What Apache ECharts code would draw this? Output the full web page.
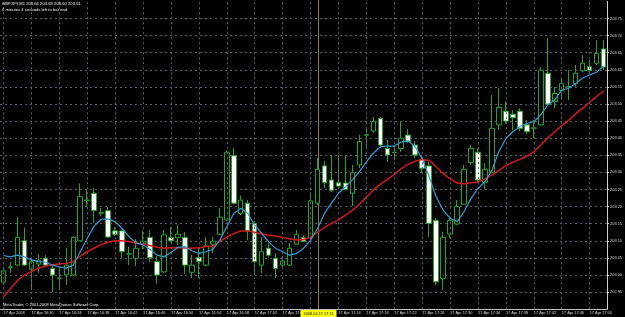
<!DOCTYPE html>
<html><head><meta charset="utf-8">
<script src="https://cdn.jsdelivr.net/npm/echarts@6/dist/echarts.min.js"></script>
<style>html,body{margin:0;padding:0;background:#000;}#c{width:625px;height:317px;}</style>
</head><body><div id="c"></div>
<script>
const times = ['16:26','16:27','16:28','16:29','16:30','16:31','16:32','16:33','16:34','16:35',
'16:36','16:37','16:38','16:39','16:40','16:41','16:42','16:43','16:44','16:45',
'16:46','16:47','16:48','16:49','16:50','16:51','16:52','16:53','16:54','16:55',
'16:56','16:57','16:58','16:59','17:00','17:01','17:02','17:03','17:04','17:05',
'17:06','17:07','17:08','17:09','17:10','17:11','17:12','17:13','17:14','17:15',
'17:16','17:17','17:18','17:19','17:20','17:21','17:22','17:23','17:24','17:25',
'17:26','17:27','17:28','17:29','17:30','17:31','17:32','17:33','17:34','17:35',
'17:36','17:37','17:38','17:39','17:40','17:41','17:42','17:43','17:44','17:45',
'17:46','17:47','17:48','17:49','17:50','17:51','17:52'];

const open = [202.979,203.022,203.029,203.100,203.017,203.032,203.049,203.019,202.990,203.000,
203.000,203.100,203.218,203.239,203.181,203.188,203.129,203.129,203.061,203.049,
203.091,203.110,203.039,203.009,203.110,203.110,203.110,203.008,203.051,203.029,
203.090,203.119,203.161,203.349,203.180,203.210,203.151,203.029,203.078,203.049,
203.029,203.029,203.090,203.109,203.110,203.210,203.319,203.278,203.270,203.269,
203.239,203.322,203.409,203.421,203.458,203.370,203.358,203.370,203.409,203.380,
203.338,203.319,203.159,202.990,203.120,203.149,203.207,203.329,203.359,203.270,
203.299,203.439,203.479,203.470,203.479,203.439,203.429,203.439,203.590,203.507,
203.539,203.550,203.560,203.597,203.609,203.619,203.661];

const close = [203.012,203.024,203.110,203.029,203.039,203.042,203.029,203.000,202.991,203.029,
203.110,203.229,203.219,203.189,203.182,203.111,203.119,203.069,203.062,203.078,
203.099,203.051,203.000,203.117,203.100,203.119,203.029,203.029,203.040,203.085,
203.099,203.169,203.359,203.210,203.219,203.129,203.039,203.068,203.058,203.019,
203.041,203.078,203.119,203.099,203.217,203.309,203.270,203.248,203.260,203.250,
203.299,203.390,203.410,203.448,203.380,203.351,203.359,203.400,203.390,203.351,
203.312,203.151,202.980,203.110,203.159,203.200,203.309,203.370,203.278,203.309,
203.429,203.490,203.450,203.460,203.429,203.419,203.430,203.599,203.500,203.531,
203.560,203.551,203.590,203.619,203.599,203.648,203.608];

const low = [202.971,203.006,203.026,203.026,202.956,203.006,203.026,202.950,202.956,202.971,
202.997,203.099,203.199,203.152,203.172,203.108,203.114,203.050,203.029,203.026,
203.076,203.038,202.974,203.006,203.096,203.088,203.003,202.991,202.991,203.026,
203.064,203.117,203.158,203.207,203.175,203.102,203.000,203.005,203.053,202.991,
203.023,203.026,203.088,203.096,203.108,203.205,203.254,203.243,203.254,203.248,
203.202,203.313,203.371,203.415,203.371,203.330,203.336,203.360,203.386,203.342,
203.298,203.111,202.971,202.956,203.108,203.146,203.205,203.322,203.269,203.251,
203.298,203.424,203.441,203.424,203.421,203.412,203.400,203.436,203.497,203.488,
203.512,203.512,203.550,203.593,203.593,203.614,203.599];

const high = [203.020,203.038,203.170,203.139,203.050,203.061,203.058,203.029,203.023,203.079,
203.114,203.268,203.248,203.254,203.196,203.199,203.140,203.134,203.082,203.105,
203.129,203.132,203.055,203.132,203.140,203.146,203.126,203.058,203.082,203.111,
203.112,203.196,203.365,203.371,203.232,203.219,203.158,203.111,203.093,203.064,
203.055,203.093,203.132,203.117,203.240,203.342,203.333,203.351,203.351,203.348,
203.322,203.409,203.430,203.462,203.462,203.395,203.380,203.450,203.427,203.392,
203.348,203.330,203.167,203.127,203.172,203.219,203.322,203.380,203.371,203.327,
203.526,203.547,203.507,203.482,203.488,203.453,203.453,203.608,203.693,203.550,
203.576,203.599,203.614,203.643,203.629,203.687,203.687];

const maFast = [203.057,203.053,203.058,203.053,203.044,203.039,203.038,203.029,203.024,203.020,
203.029,203.068,203.107,203.143,203.163,203.164,203.156,203.136,203.112,203.094,
203.088,203.075,203.058,203.053,203.066,203.081,203.083,203.071,203.063,203.068,
203.075,203.102,203.141,203.180,203.195,203.180,203.146,203.122,203.097,203.078,
203.068,203.058,203.063,203.078,203.102,203.136,203.180,203.210,203.239,203.258,
203.278,203.302,203.331,203.356,203.375,203.377,203.377,203.389,203.392,203.375,
203.341,203.287,203.229,203.190,203.166,203.156,203.185,203.224,203.253,203.273,
203.307,203.361,203.400,203.419,203.434,203.443,203.448,203.468,203.497,203.512,
203.541,203.546,203.560,203.576,203.585,203.593,203.611];

const maSlow = [202.936,202.960,202.984,203.000,203.010,203.020,203.026,203.030,203.032,203.034,
203.039,203.055,203.068,203.079,203.089,203.096,203.100,203.100,203.098,203.093,
203.091,203.086,203.081,203.078,203.080,203.080,203.079,203.078,203.080,203.083,
203.083,203.098,203.111,203.121,203.129,203.129,203.125,203.120,203.117,203.113,
203.110,203.105,203.102,203.104,203.110,203.125,203.139,203.151,203.161,203.175,
203.189,203.207,203.228,203.248,203.266,203.279,203.294,203.311,203.324,203.333,
203.338,203.335,203.317,203.297,203.281,203.269,203.266,203.270,203.272,203.281,
203.292,203.306,203.320,203.330,203.338,203.348,203.360,203.380,203.401,203.419,
203.436,203.453,203.471,203.488,203.505,203.522,203.538];

const symbolText = 'GBPJPY,M1 203.66 203.69 203.60 203.61';
const timerText = '0 minutes 4 seconds left to bar end';
const copyrightText = 'MetaTrader, \u00a9 2001-2008 MetaQuotes Software Corp.';
const firstLabel = '17 Apr 2008';
const dateLabel = '17 Apr';
const cursorTime = '17:11';
const cursorLabel = '2008.04.17 17:11';

const FONT = 'Liberation Sans';
const gridColor = '#56616b';
const cursorColor = '#8a8420';
const candles = open.map((o, i) => [o, close[i], low[i], high[i]]);
const vLines = times.filter((t, i) => i % 4 === 0).map(t => ({ xAxis: t }));

const chart = echarts.init(document.getElementById('c'), null, { renderer: 'canvas' });
chart.setOption({
  animation: false,
  backgroundColor: '#000',
  textStyle: { fontFamily: FONT },
  grid: { left: -1, top: 1.4, width: 609, height: 307.8, containLabel: false },
  xAxis: {
    type: 'category', data: times, boundaryGap: true,
    axisLine: { show: true, lineStyle: { color: '#bfbfbf', width: 1 } },
    axisTick: { show: false },
    splitLine: { show: false },
    axisLabel: {
      interval: (i) => i % 4 === 0,
      formatter: (v, i) => (i === 0 ? firstLabel : dateLabel + ' ' + v),
      color: '#dcdcdc', fontSize: 3.9, fontFamily: FONT, align: 'left', margin: 2
    }
  },
  yAxis: {
    type: 'value', position: 'right', min: 202.90, max: 203.80, interval: 0.05,
    axisLine: { show: true, lineStyle: { color: '#d0d0d0', width: 1 } },
    axisTick: { show: true, length: 2, lineStyle: { color: '#d0d0d0' } },
    axisLabel: {
      formatter: v => (v > 203.77 || v < 202.93) ? '' : v.toFixed(2),
      color: '#dcdcdc', fontSize: 3.9, fontFamily: FONT, margin: 3,
      showMinLabel: false, showMaxLabel: false
    },
    splitLine: { show: true, showMinLine: false, showMaxLine: false,
      lineStyle: { color: gridColor, type: [2, 3], width: 1 } }
  },
  series: [
    {
      type: 'line', data: [], z: 1, silent: true,
      markLine: {
        silent: true, symbol: ['none', 'none'], label: { show: false }, animation: false,
        lineStyle: { color: gridColor, type: [2, 3], width: 1 },
        data: vLines
      }
    },
    {
      type: 'candlestick', data: candles, barWidth: 5, z: 3,
      itemStyle: { color: '#000000', color0: '#ffffff', borderColor: '#1fa71f', borderColor0: '#1fa71f', borderWidth: 1 }
    },
    { type: 'line', data: maSlow, symbol: 'none', z: 4, lineStyle: { color: '#d91616', width: 1.5 } },
    { type: 'line', data: maFast, symbol: 'none', z: 5, lineStyle: { color: '#2b9fd8', width: 1.2 } }
  ],
  graphic: [
    { type: 'text', left: 2, top: 2, z: 100, style: { text: symbolText, fill: '#f0f0f0', fontSize: 4.2, fontFamily: FONT } },
    { type: 'text', left: 2, top: 7.5, z: 100, style: { text: timerText, fill: '#f0f0f0', fontSize: 4.2, fontFamily: FONT } },
    { type: 'text', left: 3, top: 302.5, z: 100, style: { text: copyrightText, fill: '#f0f0f0', fontSize: 4, fontFamily: FONT } }
  ]
});

const cx = Math.round(chart.convertToPixel({ xAxisIndex: 0 }, cursorTime)) + 0.5;
chart.setOption({
  graphic: [
    { id: 'cursorLine', type: 'line', z: 2, silent: true,
      shape: { x1: cx, y1: 0, x2: cx, y2: 309 },
      style: { stroke: cursorColor, lineWidth: 1 } },
    { id: 'cursorLabel', type: 'text', x: cx, y: 310, z: 200,
      style: { text: cursorLabel, fill: '#000', fontSize: 3.9, fontFamily: FONT,
        backgroundColor: '#ffff00', padding: [1.5, 3, 1.5, 3], align: 'center', verticalAlign: 'top' } }
  ]
});
</script>
</body></html>
